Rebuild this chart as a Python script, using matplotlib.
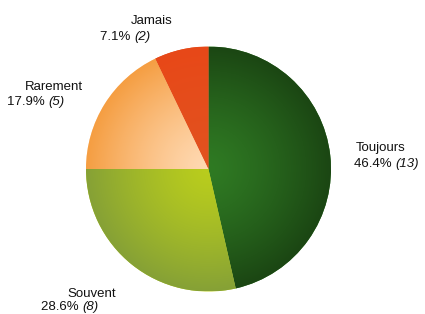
import numpy as np
import matplotlib
matplotlib.use('Agg')
import matplotlib.pyplot as plt
from matplotlib.colors import LinearSegmentedColormap

# data
labels = ['Toujours', 'Souvent', 'Rarement', 'Jamais']
counts = [13, 8, 5, 2]
pcts = ['46.4%', '28.6%', '17.9%', '7.1%']

# inner / outer colours of each wedge (radial shading)
inner_colors = ['#2f7a23', '#b9cd1d', '#ffd9b2', '#e2521f']
outer_colors = ['#1b4613', '#86a136', '#f59e42', '#e84818']

# label positions in pixels: (x1, y1 baseline, x2, y2 baseline)
label_pos = [(356, 151, 354, 167), (67, 297, 41, 310),
             (25, 90, 7, 105), (131, 24, 100, 40)]

plt.rcParams['font.family'] = 'Liberation Sans'

W, H = 425, 314
fig = plt.figure(figsize=(W / 100, H / 100), dpi=100)
cx, cy, r = 208.5, 169, 122.5
ax = fig.add_axes([(cx - r) / W, (H - cy - r) / H, 2 * r / W, 2 * r / H])

wedges, _ = ax.pie(counts, startangle=90, counterclock=False,
                   colors=inner_colors, wedgeprops=dict(linewidth=0))

# radial gradient clipped to each wedge
n = 300
xs = np.linspace(-1, 1, n)
X, Y = np.meshgrid(xs, xs)
R = np.sqrt(X ** 2 + Y ** 2) ** 1.3
for w, ci, co in zip(wedges, inner_colors, outer_colors):
    cmap = LinearSegmentedColormap.from_list('g', [ci, co])
    im = ax.imshow(R, cmap=cmap, vmin=0, vmax=1, extent=[-1, 1, -1, 1],
                   origin='lower', zorder=w.get_zorder() + 0.1)
    im.set_clip_path(w)

ax.set_xlim(-1, 1)
ax.set_ylim(-1, 1)
ax.set_aspect('equal')
ax.axis('off')

renderer = fig.canvas.get_renderer()
for lab, c, p, (x1, y1, x2, y2) in zip(labels, counts, pcts, label_pos):
    fig.text(x1 / W, 1 - y1 / H, lab, fontsize=9.5, color='#111111',
             ha='left', va='baseline')
    t = fig.text(x2 / W, 1 - y2 / H, p + ' ', fontsize=9.5, color='#111111',
                 ha='left', va='baseline')
    bb = t.get_window_extent(renderer)
    fig.text(bb.x1 / W, 1 - y2 / H, '(%d)' % c, fontsize=9.5, color='#111111',
             ha='left', va='baseline', style='italic')

fig.savefig('out.png', dpi=100, facecolor='white')
